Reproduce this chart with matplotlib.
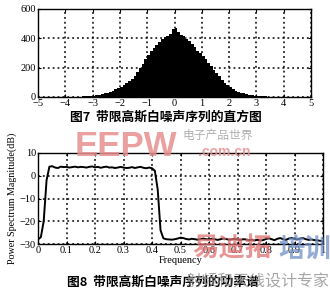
import numpy as np
import matplotlib
matplotlib.use("Agg")
import matplotlib.pyplot as plt

# histogram of band-limited gaussian noise (bin width 0.1, -5..5)
hist_edges_lo = -5.0
hist_bin = 0.1
hist_counts = [
    0, 0, 0, 0, 0, 0, 0, 0, 0, 1,
    1, 1, 2, 2, 3, 3, 4, 5, 7, 8,
    10, 12, 15, 19, 24, 29, 35, 42, 52, 61,
    70, 82, 93, 108, 125, 145, 168, 195, 225, 258,
    285, 312, 335, 352, 378, 395, 410, 418, 430, 462,
    470, 440, 425, 415, 398, 380, 360, 338, 315, 298,
    280, 258, 235, 212, 185, 165, 140, 118, 98, 82,
    66, 55, 44, 36, 29, 24, 18, 14, 11, 9,
    7, 6, 5, 4, 3, 2, 2, 1, 1, 1,
    1, 0, 0, 0, 0, 0, 0, 0, 0, 0,
]

# power spectrum, frequency step 0.01
freq = [i / 100 for i in range(101)]
psd_db = [
    -28.0, -27.0, -20.0, -2.0, 4.0, 4.2, 3.6, 3.4, 4.0, 3.8,
    3.9, 3.6, 3.8, 4.0, 3.7, 3.9, 3.8, 3.6, 3.9, 4.1,
    3.7, 3.9, 3.5, 3.8, 4.0, 3.6, 3.7, 3.4, 3.6, 3.9,
    3.6, 3.4, 3.5, 3.8, 3.4, 3.7, 3.9, 3.5, 3.3, 3.6,
    3.3, 2.2, -6.0, -24.0, -27.5, -27.9, -28.0, -28.1, -27.9, -27.6,
    -27.2, -27.4, -27.8, -28.0, -27.7, -27.9, -28.1, -27.8, -27.6, -27.9,
    -28.0, -27.7, -27.9, -28.2, -27.9, -27.6, -27.8, -28.1, -27.9, -27.7,
    -28.0, -28.2, -27.9, -28.0, -28.3, -28.1, -28.4, -28.2, -28.4, -28.3,
    -27.8, -27.5, -27.9, -28.3, -27.7, -27.4, -27.9, -28.2, -27.6, -27.3,
    -27.8, -28.0, -27.6, -27.4, -27.9, -28.2, -28.0, -28.3, -28.4, -28.6,
    -28.8,
]

cap7 = "图7  带限高斯白噪声序列的直方图"
cap8 = "图8  带限高斯白噪声序列的功率谱"

plt.rcParams["font.family"] = ["Liberation Serif", "DejaVu Serif"]
cjk = ["Noto Sans CJK SC", "DejaVu Sans"]
W, H = 330, 291

fig = plt.figure(figsize=(3.3, 2.91), dpi=100)
gridkw = dict(color="black", linestyle=(0, (1.2, 2.0)), linewidth=1.1)


def style(ax):
    ax.set_axisbelow(True)
    ax.grid(True, **gridkw)
    ax.tick_params(direction="in", length=2.5, labelsize=7.5, pad=1.5,
                   top=True, right=True, width=0.8)
    for s in ax.spines.values():
        s.set_linewidth(1.0)


# top: histogram
ax1 = fig.add_axes([38 / W, 1 - 97 / H, 273 / W, 88 / H])
centers = [hist_edges_lo + hist_bin * (i + 0.5) for i in range(len(hist_counts))]
ax1.bar(centers, hist_counts, width=hist_bin, color="black", linewidth=0)
ax1.set_xlim(-5, 5)
ax1.set_ylim(0, 600)
ax1.set_xticks(range(-5, 6))
ax1.set_yticks([0, 200, 400, 600])
style(ax1)

# bottom: power spectrum
ax2 = fig.add_axes([38 / W, 1 - 244 / H, 285 / W, 91 / H])
ax2.plot(freq, psd_db, color="black", linewidth=1.4)
ax2.set_xlim(0, 1)
ax2.set_ylim(-30, 10)
ax2.set_xticks([i / 10 for i in range(11)])
ax2.set_xticklabels(["0"] + ["0.%d" % i for i in range(1, 10)] + ["1"])
ax2.set_yticks([-30, -20, -10, 0, 10])
style(ax2)
ax2.set_xlabel("Frequency", fontsize=7.5, labelpad=1)
ax2.set_ylabel("Power Spectrum Magnitude(dB)", fontsize=7.2, labelpad=2)

fig.text(166 / W, 1 - 117 / H, cap7, family=cjk, fontsize=9.2,
         fontweight="bold", ha="center", va="center")
fig.text(163 / W, 1 - 282 / H, cap8, family=cjk, fontsize=9.2,
         fontweight="bold", ha="center", va="center")

# watermarks
fig.text(126 / W, 1 - 146 / H, "EEPW", family=["Liberation Sans"], fontsize=25,
         fontweight="bold", color="#e89090", alpha=0.85, ha="center", va="center")
fig.text(218 / W, 1 - 135 / H, "电子产品世界", family=cjk, fontsize=8.5,
         color="#b0b0b0", ha="center", va="center")
fig.text(224 / W, 1 - 152 / H, ".com.cn", family=["Liberation Sans"], fontsize=10,
         fontweight="bold", color="#e89090", alpha=0.85, ha="center", va="center")
fig.text(232 / W, 1 - 249 / H, "易迪拓", family=cjk, fontsize=19,
         fontweight="bold", color="#e07070", alpha=0.75, ha="center", va="center")
fig.text(305 / W, 1 - 249 / H, "培训", family=cjk, fontsize=19,
         fontweight="bold", color="#7090c8", alpha=0.75, ha="center", va="center")
fig.text(257 / W, 1 - 282 / H, "射频和天线设计专家", family=cjk, fontsize=11.5,
         color="#909090", alpha=0.8, ha="center", va="center")

fig.savefig("out.png", dpi=100)
